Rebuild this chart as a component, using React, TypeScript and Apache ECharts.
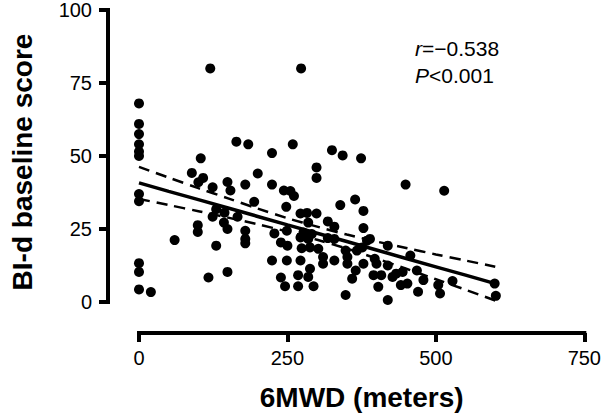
import React, { useEffect, useRef } from "react";
import * as echarts from "echarts";

// 6MWD (meters) of each patient
const sixMWD: number[] = [
  0, 0, 0, 0, 0, 0, 0, 0, 0, 0, 0, 20, 60, 89, 99, 99, 100, 108, 104, 117,
  120, 124, 124, 130, 130, 144, 143, 149, 149, 154, 149, 164, 184, 166, 179, 179, 179, 179, 194, 200,
  224, 224, 224, 228, 239, 239, 244, 255, 261, 246, 248, 249, 250, 249, 259, 268, 268, 272, 274, 272,
  273, 272, 283, 277, 285, 285, 285, 288, 288, 291, 294, 299, 299, 299, 302, 310, 310, 318, 318, 325,
  329, 329, 329, 339, 343, 348, 351, 351, 348, 359, 365, 364, 367, 376, 374, 378, 378, 378, 384, 389,
  395, 397, 400, 403, 408, 419, 419, 419, 427, 433, 441, 444, 449, 452, 457, 468, 470, 479, 504, 507,
  514, 528, 599, 601,
];
// BI-d baseline score of each patient
const bidScore: number[] = [
  68, 61, 57.5, 54, 51.5, 50, 37, 34.5, 13.3, 10.3, 4.3, 3.4, 21.2, 44.2, 26.3, 24, 41, 42.5, 49.2, 8.4,
  80, 39.3, 29.2, 31.8, 19.3, 30.6, 27.2, 25, 41.1, 38.2, 10.3, 54.9, 54, 29.2, 40.2, 24.4, 21.6, 20.1, 34.3, 44,
  51, 40.2, 14.2, 23.5, 20.4, 8.4, 38.2, 38, 36.3, 5.4, 32.6, 24.4, 19.3, 14.2, 54, 9.2, 5.4, 22.1, 18.4, 14.2,
  80, 30.3, 30.5, 23.8, 27.2, 21.6, 8.6, 18.7, 11.4, 23.3, 5.4, 46.1, 42.5, 30.3, 18.2, 15.4, 13.1, 27.6, 21.9, 52,
  25.8, 21.6, 14.2, 33.2, 50.2, 17.6, 15.4, 13.1, 2.4, 8, 10.8, 35.1, 17.6, 18.7, 49.2, 31.2, 25.3, 13.1, 21, 21.6,
  9.2, 14.8, 13.1, 5.2, 9.2, 19.3, 12.5, 0.7, 8.6, 9.7, 5.8, 10.3, 40.2, 6.3, 15.9, 10.8, 3.5, 7.5, 5.8, 2.9,
  38.1, 7.2, 6.3, 2.1,
];

// regression line and 95% confidence band
const fitX: number[] = [0, 50, 100, 150, 200, 250, 300, 350, 400, 450, 500, 550, 600];
const fitY: number[] = [40.8, 37.9, 35.05, 32.2, 29.3, 26.4, 23.55, 20.7, 17.8, 14.9, 12.05, 9.2, 6.3];
const upperCI: number[] = [46.3, 42.6, 39.0, 35.5, 32.0, 28.7, 25.8, 23.1, 20.7, 18.5, 16.3, 14.2, 12.1];
const lowerCI: number[] = [35.3, 33.2, 31.1, 28.9, 26.6, 24.1, 21.3, 18.3, 14.9, 11.4, 7.8, 4.2, 0.5];

const xTitle = "6MWD (meters)";
const yTitle = "BI-d baseline score";
const rText = "=\u22120.538";
const pText = "<0.001";

const FONT = "'Liberation Sans', Arial, Helvetica, sans-serif";

export default function App() {
  const ref = useRef<HTMLDivElement>(null);
  useEffect(() => {
    if (!ref.current) return;
    const chart = echarts.init(ref.current, undefined, { renderer: "svg" });
    const pts = sixMWD.map((x, i) => [x, bidScore[i]]);
    const pair = (ys: number[]) => fitX.map((x, i) => [x, ys[i]]);
    const axisCommon = {
      axisLine: { show: true, onZero: false, lineStyle: { color: "#000", width: 4, cap: "square" } },
      axisTick: { show: true, length: 9, lineStyle: { color: "#000", width: 4 } },
      splitLine: { show: false },
      nameLocation: "middle" as const,
    };
    const nameStyle = { color: "#000", fontFamily: FONT, fontWeight: "bold" as const, fontSize: 28 };
    chart.setOption({
      animation: false,
      backgroundColor: "#fff",
      grid: { left: 129, right: 17, top: 7, bottom: 114, containLabel: false },
      xAxis: {
        type: "value",
        min: 0,
        max: 750,
        interval: 250,
        offset: 31,
        name: xTitle,
        nameGap: 50,
        nameTextStyle: nameStyle,
        ...axisCommon,
        axisLabel: { color: "#000", fontFamily: FONT, fontSize: 20, margin: 15 },
      },
      yAxis: {
        type: "value",
        min: 0,
        max: 100,
        interval: 25,
        offset: 31,
        name: yTitle,
        nameGap: 72,
        nameTextStyle: { ...nameStyle, padding: [0, 12, 0, 0] },
        ...axisCommon,
        axisLabel: { color: "#000", fontFamily: FONT, fontSize: 20, margin: 16 },
      },
      series: [
        {
          type: "scatter",
          data: pts,
          symbol: "circle",
          symbolSize: 10,
          itemStyle: { color: "#000", opacity: 1 },
          clip: false,
          z: 2,
        },
        {
          type: "line",
          data: pair(fitY),
          showSymbol: false,
          lineStyle: { color: "#000", width: 3.5 },
          clip: false,
          z: 3,
        },
        {
          type: "line",
          data: pair(upperCI),
          showSymbol: false,
          smooth: 0.3,
          lineStyle: { color: "#000", width: 2.5, type: [11, 7] },
          clip: false,
          z: 3,
        },
        {
          type: "line",
          data: pair(lowerCI),
          showSymbol: false,
          smooth: 0.3,
          lineStyle: { color: "#000", width: 2.5, type: [11, 7] },
          clip: false,
          z: 3,
        },
      ],
      graphic: [
        {
          type: "text",
          left: 415,
          top: 38,
          style: {
            text: "{i|r}" + rText,
            rich: {
              i: { fontStyle: "italic", fontFamily: FONT, fontSize: 21, fill: "#000" },
            },
            font: `21px ${FONT}`,
            fill: "#000",
          },
        },
        {
          type: "text",
          left: 415,
          top: 65,
          style: {
            text: "{i|P}" + pText,
            rich: {
              i: { fontStyle: "italic", fontFamily: FONT, fontSize: 21, fill: "#000" },
            },
            font: `21px ${FONT}`,
            fill: "#000",
          },
        },
      ],
    });
    return () => chart.dispose();
  }, []);
  return (
    <div
      ref={ref}
      style={{ position: "fixed", left: 0, top: 0, width: 604, height: 416, background: "#fff" }}
    />
  );
}
